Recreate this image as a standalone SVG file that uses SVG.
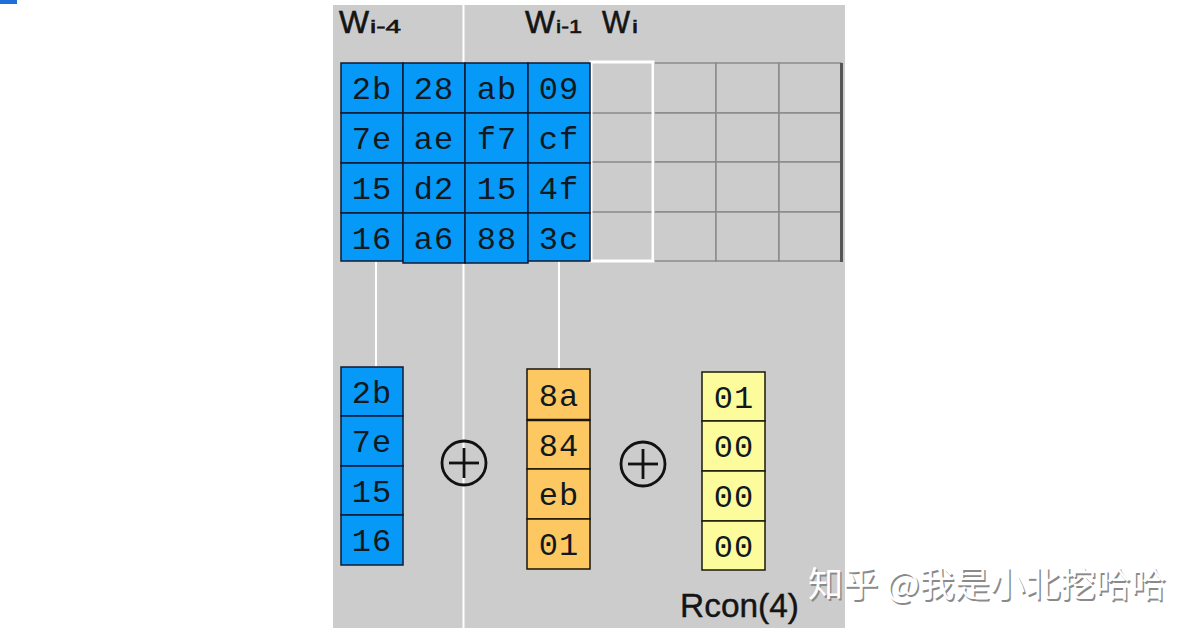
<svg xmlns="http://www.w3.org/2000/svg" width="1200" height="634" viewBox="0 0 1200 634">
<style>
.bl{fill:#0799f7;stroke:#0c1a33;stroke-width:1.5}
.or{fill:#fdc862;stroke:#1a1408;stroke-width:1.5}
.ye{fill:#fdfc9c;stroke:#1a1a08;stroke-width:1.5}
.gc{fill:#cccccc;stroke:#8a8a8a;stroke-width:1.5}
.hx{font-family:"Liberation Mono","DejaVu Sans Mono",monospace;font-size:32px;fill:#101820;text-anchor:middle;letter-spacing:1px}
.lb{font-family:"Liberation Sans",Arial,sans-serif;fill:#141414;stroke:#141414;stroke-width:0.6}
.wl{stroke:#ffffff;stroke-width:2;fill:none}
.op{fill:none;stroke:#111;stroke-width:2.8}
.wm{font-family:"Noto Sans CJK SC","Noto Sans",sans-serif;font-size:35px}
</style>
<rect x="0" y="0" width="1200" height="634" fill="#ffffff"/>
<rect x="0" y="0" width="17" height="4" fill="#1e6fd9"/>
<rect id="panel" x="333" y="5" width="512" height="623" fill="#cccccc"/>
<line class="wl" x1="463.5" y1="5" x2="463.5" y2="628"/>

<g id="labels">
<text class="lb" x="339" y="33" font-size="31" textLength="30" lengthAdjust="spacingAndGlyphs">W</text>
<text class="lb" x="370" y="33" font-size="19" textLength="31" lengthAdjust="spacingAndGlyphs">i-4</text>
<text class="lb" x="525" y="33" font-size="31" textLength="30" lengthAdjust="spacingAndGlyphs">W</text>
<text class="lb" x="556" y="33" font-size="19" textLength="26" lengthAdjust="spacingAndGlyphs">i-1</text>
<text class="lb" x="602" y="33" font-size="31" textLength="28" lengthAdjust="spacingAndGlyphs">W</text>
<text class="lb" x="632" y="33" font-size="19" textLength="6" lengthAdjust="spacingAndGlyphs">i</text>
</g>

<g id="connectors">
<line class="wl" x1="376" y1="261" x2="376" y2="367"/>
<line class="wl" x1="559" y1="261" x2="559" y2="369"/>
</g>

<g id="empty-grid">
<rect class="gc" x="654" y="63" width="62" height="50"/>
<rect class="gc" x="716" y="63" width="63" height="50"/>
<rect class="gc" x="779" y="63" width="62" height="50"/>
<rect class="gc" x="654" y="113" width="62" height="49"/>
<rect class="gc" x="716" y="113" width="63" height="49"/>
<rect class="gc" x="779" y="113" width="62" height="49"/>
<rect class="gc" x="654" y="162" width="62" height="50"/>
<rect class="gc" x="716" y="162" width="63" height="50"/>
<rect class="gc" x="779" y="162" width="62" height="50"/>
<rect class="gc" x="654" y="212" width="62" height="49"/>
<rect class="gc" x="716" y="212" width="63" height="49"/>
<rect class="gc" x="779" y="212" width="62" height="49"/>
<line x1="841.5" y1="63" x2="841.5" y2="262" stroke="#555" stroke-width="3"/>
<line x1="591" y1="113" x2="653" y2="113" stroke="#8a8a8a" stroke-width="1.5"/>
<line x1="591" y1="162" x2="653" y2="162" stroke="#8a8a8a" stroke-width="1.5"/>
<line x1="591" y1="212" x2="653" y2="212" stroke="#8a8a8a" stroke-width="1.5"/>
</g>
<g id="wi-column">
<rect x="591" y="62" width="62" height="199" fill="none" stroke="#ffffff" stroke-width="3"/>
</g>

<g id="state-matrix">
<rect class="bl" x="341" y="63" width="62" height="50"/>
<rect class="bl" x="403" y="63" width="62" height="50"/>
<rect class="bl" x="465" y="63" width="63" height="50"/>
<rect class="bl" x="528" y="63" width="62" height="50"/>
<rect class="bl" x="341" y="113" width="62" height="50"/>
<rect class="bl" x="403" y="113" width="62" height="50"/>
<rect class="bl" x="465" y="113" width="63" height="50"/>
<rect class="bl" x="528" y="113" width="62" height="50"/>
<rect class="bl" x="341" y="163" width="62" height="50"/>
<rect class="bl" x="403" y="163" width="62" height="50"/>
<rect class="bl" x="465" y="163" width="63" height="50"/>
<rect class="bl" x="528" y="163" width="62" height="50"/>
<rect class="bl" x="341" y="213" width="62" height="48"/>
<rect class="bl" x="403" y="213" width="62" height="50"/>
<rect class="bl" x="465" y="213" width="63" height="50"/>
<rect class="bl" x="528" y="213" width="62" height="48"/>
<text class="hx" x="372" y="99">2b</text>
<text class="hx" x="434" y="99">28</text>
<text class="hx" x="497" y="99">ab</text>
<text class="hx" x="559" y="99">09</text>
<text class="hx" x="372" y="149">7e</text>
<text class="hx" x="434" y="149">ae</text>
<text class="hx" x="497" y="149">f7</text>
<text class="hx" x="559" y="149">cf</text>
<text class="hx" x="372" y="199">15</text>
<text class="hx" x="434" y="199">d2</text>
<text class="hx" x="497" y="199">15</text>
<text class="hx" x="559" y="199">4f</text>
<text class="hx" x="372" y="249">16</text>
<text class="hx" x="434" y="249">a6</text>
<text class="hx" x="497" y="249">88</text>
<text class="hx" x="559" y="249">3c</text>
</g>

<g id="w-i-4">
<rect class="bl" x="341" y="367" width="62" height="49"/>
<rect class="bl" x="341" y="416" width="62" height="50"/>
<rect class="bl" x="341" y="466" width="62" height="49"/>
<rect class="bl" x="341" y="515" width="62" height="50"/>
<text class="hx" x="372" y="403">2b</text>
<text class="hx" x="372" y="452">7e</text>
<text class="hx" x="372" y="502">15</text>
<text class="hx" x="372" y="551">16</text>
</g>

<g id="xor1">
<circle class="op" cx="464" cy="463" r="22"/>
<line class="op" x1="449" y1="463" x2="479" y2="463"/>
<line class="op" x1="464" y1="448" x2="464" y2="478"/>
</g>

<g id="subword">
<rect class="or" x="527" y="369" width="63" height="51"/>
<rect class="or" x="527" y="420" width="63" height="49"/>
<rect class="or" x="527" y="469" width="63" height="50"/>
<rect class="or" x="527" y="519" width="63" height="50"/>
<line x1="527" y1="420" x2="590" y2="420" stroke="#1a1408" stroke-width="2.5"/>
<text class="hx" x="559" y="406">8a</text>
<text class="hx" x="559" y="456">84</text>
<text class="hx" x="559" y="505">eb</text>
<text class="hx" x="559" y="555">01</text>
</g>

<g id="xor2">
<circle class="op" cx="643" cy="464" r="22"/>
<line class="op" x1="628" y1="464" x2="658" y2="464"/>
<line class="op" x1="643" y1="449" x2="643" y2="479"/>
</g>

<g id="rcon">
<rect class="ye" x="702" y="372" width="63" height="49"/>
<rect class="ye" x="702" y="421" width="63" height="50"/>
<rect class="ye" x="702" y="471" width="63" height="50"/>
<rect class="ye" x="702" y="521" width="63" height="49"/>
<text class="hx" x="734" y="408">01</text>
<text class="hx" x="734" y="457">00</text>
<text class="hx" x="734" y="507">00</text>
<text class="hx" x="734" y="557">00</text>
<text x="680" y="617" font-family="Liberation Sans,Arial,sans-serif" font-size="33" fill="#141414" stroke="#141414" stroke-width="0.4" textLength="119" lengthAdjust="spacingAndGlyphs">Rcon(4)</text>
</g>

<g id="watermark">
<text class="wm" x="809.5" y="598.5" fill="#8a8a8a" textLength="358" lengthAdjust="spacingAndGlyphs">知乎 @我是小北挖哈哈</text>
<text class="wm" x="808" y="597" fill="#ffffff" textLength="358" lengthAdjust="spacingAndGlyphs">知乎 @我是小北挖哈哈</text>
</g>
</svg>
